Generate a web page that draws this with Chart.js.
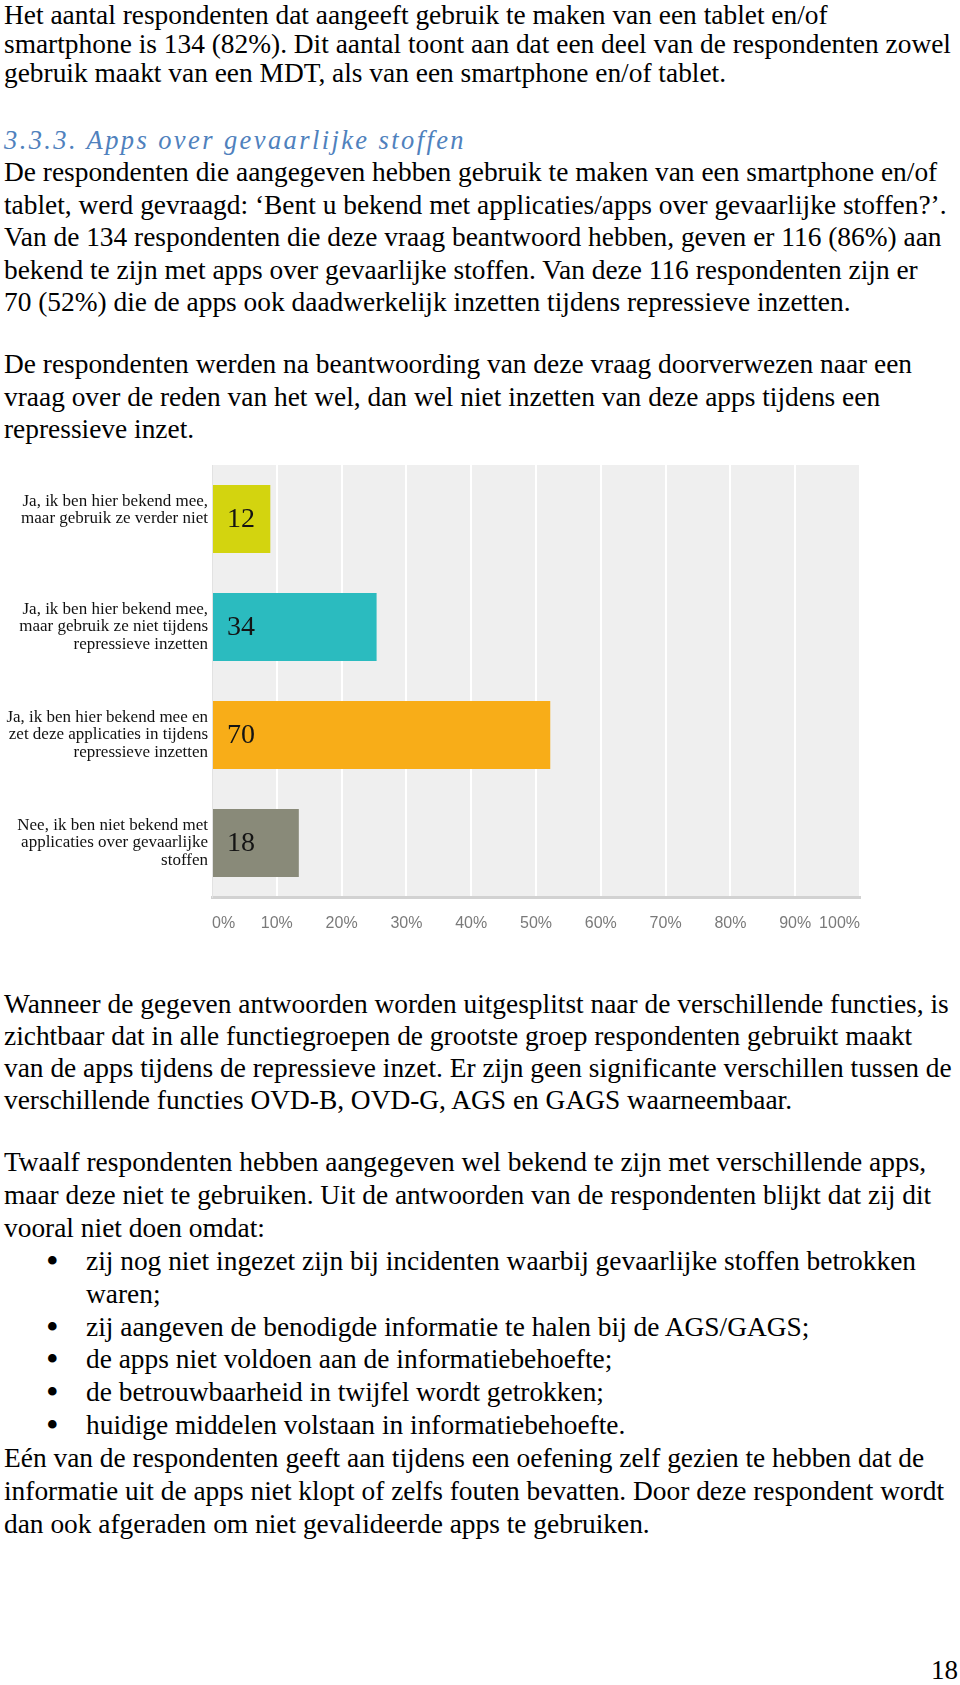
<!DOCTYPE html>
<html>
<head>
<meta charset="utf-8">
<script src="https://cdn.jsdelivr.net/npm/chart.js@4.4.1/dist/chart.umd.min.js"></script>
<style>
  html, body { margin: 0; padding: 0; background: #fff; }
  body { width: 960px; height: 1685px; position: relative; overflow: hidden;
         font-family: "Liberation Serif", "Times New Roman", serif; font-size: 27.4px; color: #000; }
  .blk { position: absolute; left: 4px; white-space: nowrap; }
  .blk div { white-space: nowrap; }
  .h3 { position: absolute; left: 4px; top: 124px; line-height: 32px; font-style: italic;
        color: #4f81bd; letter-spacing: 2.4px; font-size: 26.5px; }
  .bul { position: relative; padding-left: 82px; }
  .bul::before { content: "\2022"; position: absolute; left: 42px; font-size: 36px; line-height: 32px; }
  #wrap { position: absolute; left: 0; top: 455px; width: 960px; height: 490px; }
  .pn { position: absolute; right: 2px; top: 1654px; line-height: 32px; font-size: 27px; }
</style>
</head>
<body>
<div class="blk" style="top:1px;line-height:29px">
  <div>Het aantal respondenten dat aangeeft gebruik te maken van een tablet en/of</div>
  <div>smartphone is 134 (82%). Dit aantal toont aan dat een deel van de respondenten zowel</div>
  <div>gebruik maakt van een MDT, als van een smartphone en/of tablet.</div>
</div>
<div class="h3">3.3.3. Apps over gevaarlijke stoffen</div>
<div class="blk" style="top:156px;line-height:32.5px">
  <div>De respondenten die aangegeven hebben gebruik te maken van een smartphone en/of</div>
  <div>tablet, werd gevraagd: ‘Bent u bekend met applicaties/apps over gevaarlijke stoffen?’.</div>
  <div>Van de 134 respondenten die deze vraag beantwoord hebben, geven er 116 (86%) aan</div>
  <div>bekend te zijn met apps over gevaarlijke stoffen. Van deze 116 respondenten zijn er</div>
  <div>70 (52%) die de apps ook daadwerkelijk inzetten tijdens repressieve inzetten.</div>
</div>
<div class="blk" style="top:348px;line-height:32.5px">
  <div>De respondenten werden na beantwoording van deze vraag doorverwezen naar een</div>
  <div>vraag over de reden van het wel, dan wel niet inzetten van deze apps tijdens een</div>
  <div>repressieve inzet.</div>
</div>

<div id="wrap"><canvas id="appsChart"></canvas></div>

<div class="blk" style="top:988px;line-height:32px">
  <div>Wanneer de gegeven antwoorden worden uitgesplitst naar de verschillende functies, is</div>
  <div>zichtbaar dat in alle functiegroepen de grootste groep respondenten gebruikt maakt</div>
  <div>van de apps tijdens de repressieve inzet. Er zijn geen significante verschillen tussen de</div>
  <div>verschillende functies OVD-B, OVD-G, AGS en GAGS waarneembaar.</div>
</div>
<div class="blk" style="top:1146px;line-height:32.9px">
  <div>Twaalf respondenten hebben aangegeven wel bekend te zijn met verschillende apps,</div>
  <div>maar deze niet te gebruiken. Uit de antwoorden van de respondenten blijkt dat zij dit</div>
  <div>vooral niet doen omdat:</div>
  <div class="bul">zij nog niet ingezet zijn bij incidenten waarbij gevaarlijke stoffen betrokken<br>waren;</div>
  <div class="bul">zij aangeven de benodigde informatie te halen bij de AGS/GAGS;</div>
  <div class="bul">de apps niet voldoen aan de informatiebehoefte;</div>
  <div class="bul">de betrouwbaarheid in twijfel wordt getrokken;</div>
  <div class="bul">huidige middelen volstaan in informatiebehoefte.</div>
  <div>Eén van de respondenten geeft aan tijdens een oefening zelf gezien te hebben dat de</div>
  <div>informatie uit de apps niet klopt of zelfs fouten bevatten. Door deze respondent wordt</div>
  <div>dan ook afgeraden om niet gevalideerde apps te gebruiken.</div>
</div>
<div class="pn">18</div>

<script>
// answers (multi-line labels as in the survey chart; first one sits a bit high, hence the empty line)
const answers = [
  ['Ja, ik ben hier bekend mee,', 'maar gebruik ze verder niet', ''],
  ['Ja, ik ben hier bekend mee,', 'maar gebruik ze niet tijdens', 'repressieve inzetten'],
  ['Ja, ik ben hier bekend mee en', 'zet deze applicaties in tijdens', 'repressieve inzetten'],
  ['Nee, ik ben niet bekend met', 'applicaties over gevaarlijke', 'stoffen']
];
const counts = [12, 34, 70, 18];
const shares = [9.0, 25.4, 52.2, 13.4];   // % of the 134 respondents
const barColors = ['#d3d40f', '#2bbbbf', '#f8ad18', '#898a79'];
const xTicks = [0, 10, 20, 30, 40, 50, 60, 70, 80, 90, 100];

const plotBg = {
  id: 'plotBg',
  beforeDraw(chart) {
    const { ctx, chartArea: a } = chart;
    ctx.save();
    ctx.fillStyle = '#efefef';
    ctx.fillRect(a.left, a.top, a.right - a.left, a.bottom - a.top);
    ctx.restore();
  }
};

const countLabels = {
  id: 'countLabels',
  afterDatasetsDraw(chart) {
    const { ctx } = chart;
    const x0 = chart.scales.x.getPixelForValue(0);
    ctx.save();
    ctx.font = '28px "Liberation Serif", serif';
    ctx.fillStyle = '#141414';
    ctx.textAlign = 'left';
    ctx.textBaseline = 'middle';
    chart.getDatasetMeta(0).data.forEach((bar, i) => {
      ctx.fillText(String(counts[i]), x0 + 15, bar.y + 1);
    });
    ctx.restore();
  }
};

new Chart(document.getElementById('appsChart'), {
  type: 'bar',
  data: {
    labels: answers,
    datasets: [{
      data: shares,
      backgroundColor: barColors,
      borderWidth: 0,
      barPercentage: 0.63,
      categoryPercentage: 1
    }]
  },
  options: {
    indexAxis: 'y',
    responsive: true,
    maintainAspectRatio: false,
    animation: false,
    layout: { padding: { top: 10, right: 100, left: 0, bottom: 0 } },
    plugins: { legend: { display: false }, tooltip: { enabled: false } },
    scales: {
      x: {
        min: 0, max: 100,
        afterBuildTicks: (s) => { s.ticks = xTicks.map(v => ({ value: v })); },
        afterFit: (s) => { s.height = 48; s.paddingLeft = 0; s.paddingRight = 0; },
        grid: { color: '#ffffff', lineWidth: 2, drawTicks: false },
        border: { color: '#d2d2d2', width: 3 },
        ticks: {
          align: 'inner',
          padding: 17,
          color: '#7a7a7a',
          font: { family: '"Liberation Sans", Arial, sans-serif', size: 16 },
          callback: (v) => v + '%'
        }
      },
      y: {
        afterFit: (s) => { s.width = 212; s.paddingTop = 0; s.paddingBottom = 0; },
        grid: { display: false, drawTicks: false },
        border: { color: '#e2e2e2', width: 1 },
        ticks: {
          padding: 4,
          color: '#111',
          font: { family: '"Liberation Serif", serif', size: 17, lineHeight: 1.03 }
        }
      }
    }
  },
  plugins: [plotBg, countLabels]
});
</script>
</body>
</html>
